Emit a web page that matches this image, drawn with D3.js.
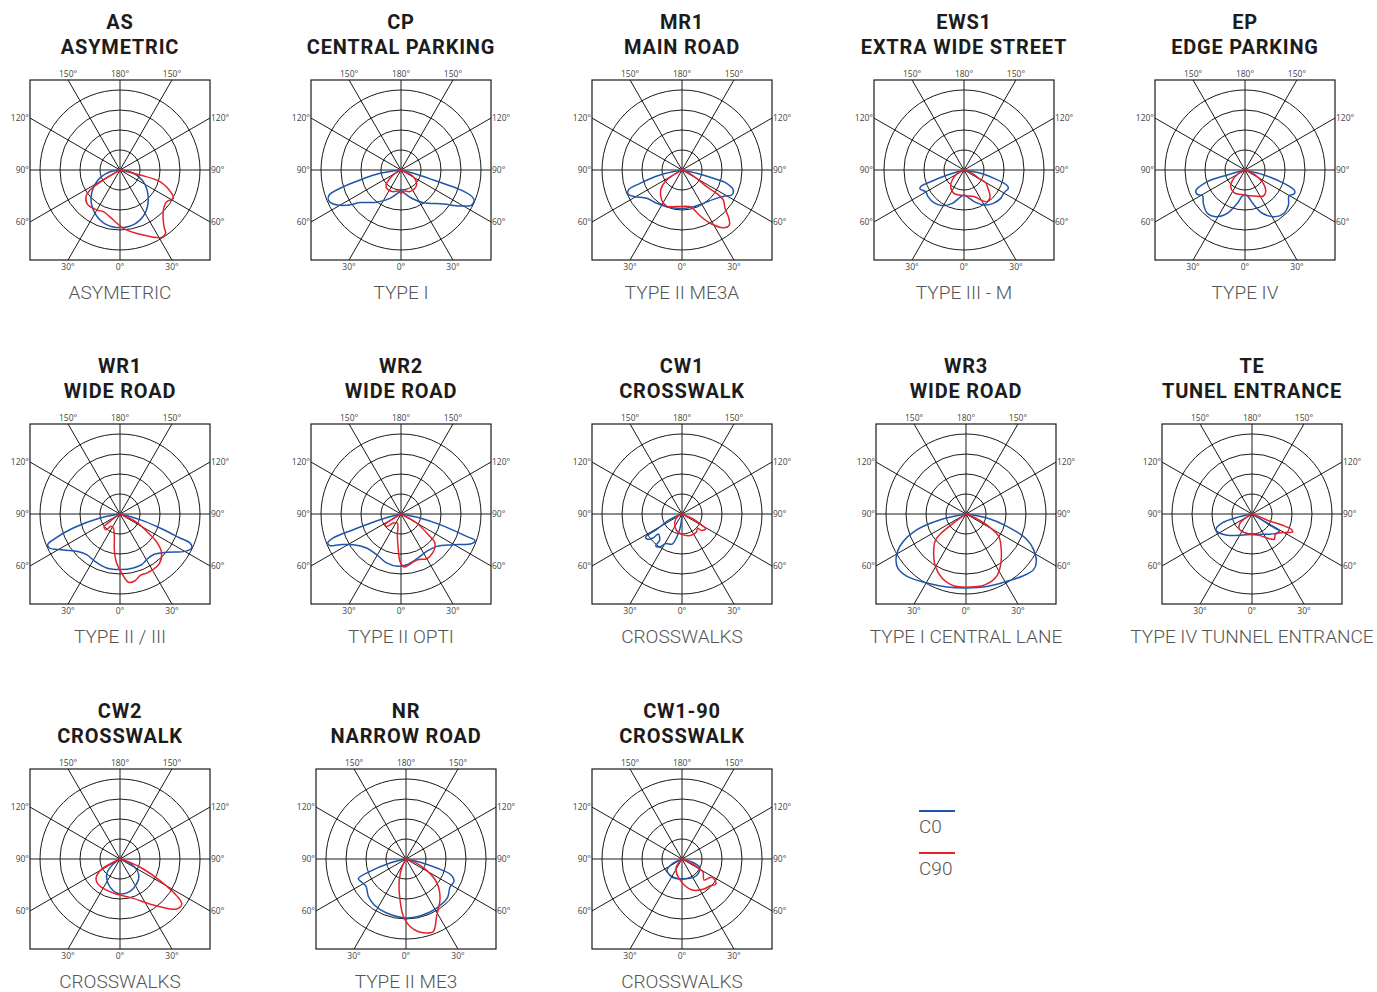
<!DOCTYPE html>
<html>
<head>
<meta charset="utf-8">
<script src="https://cdn.jsdelivr.net/npm/d3@7"></script>
<style>
    body { margin: 0; background: #fff; }
    .title { font-family: Roboto, sans-serif; font-weight: 700; font-size: 20px; letter-spacing: 0.8px; fill: #1c1c1c; }
    .type { font-family: Roboto, sans-serif; font-weight: 300; font-size: 19px; fill: #555; }
    .tick { font-family: "Open Sans", sans-serif; font-size: 8.5px; fill: #444; }
    .grid { fill: none; stroke: #1a1a1a; stroke-width: 1; }
</style>
</head>
<body>
<div id="chart"></div>
<script>
// panel labels
const codes = ['AS', 'CP', 'MR1', 'EWS1', 'EP', 'WR1', 'WR2', 'CW1', 'WR3', 'TE', 'CW2', 'NR', 'CW1-90'];
const names = ['ASYMETRIC', 'CENTRAL PARKING', 'MAIN ROAD', 'EXTRA WIDE STREET', 'EDGE PARKING',
    'WIDE ROAD', 'WIDE ROAD', 'CROSSWALK', 'WIDE ROAD', 'TUNEL ENTRANCE',
    'CROSSWALK', 'NARROW ROAD', 'CROSSWALK'];
const types = ['ASYMETRIC', 'TYPE I', 'TYPE II ME3A', 'TYPE III - M', 'TYPE IV',
    'TYPE II / III', 'TYPE II OPTI', 'CROSSWALKS', 'TYPE I CENTRAL LANE', 'TYPE IV TUNNEL ENTRANCE',
    'CROSSWALKS', 'TYPE II ME3', 'CROSSWALKS'];

// polar grid
const rings = [1, 2, 3, 4];
const spokes = [0, 30, 60, 90, 120, 150];
const topTicks = ['150°', '180°', '150°'];
const bottomTicks = ['30°', '0°', '30°'];
const sideTicks = ['120°', '90°', '60°'];
const seriesNames = ['C0', 'C90'];

// curves: [angle from nadir in degrees (negative = left), intensity in ring units]
const c0 = [
    [[-80,0.5],[-70,1.0],[-60,1.45],[-45,2.05],[-30,2.5],[-15,2.8],[0,2.88],[15,2.8],[30,2.5],[45,2.0],[60,1.45],[70,1.0],[80,0.5]],
    [[-81,1.06],[-76.3,2.11],[-73.3,3.18],[-70.8,3.8],[-67.6,3.93],[-63.3,3.79],[-57,3.24],[-51.5,2.62],[-37,2.02],[-21.2,1.52],[-6.7,1.14],[0,1.03],[6.7,1.14],[20.6,1.51],[34.4,1.98],[51.2,2.71],[58.6,3.45],[63.6,3.94],[67.7,3.95],[70.1,3.67],[71.8,2.93],[72.8,1.69],[74.9,0.64]],
    [[-77.2,1.13],[-72.4,2.2],[-69.6,2.86],[-65.6,2.95],[-60.4,2.7],[-51.3,2.26],[-37.2,2.09],[-22.7,1.99],[0,1.92],[17.2,1.92],[32.6,1.98],[46.9,2.15],[58.8,2.51],[63.3,2.78],[68.7,2.75],[73.4,2.33],[75.1,1.62],[77.2,0.75]],
    [[-73.3,0.87],[-70.7,1.77],[-69,2.32],[-66.6,2.4],[-60.5,2.2],[-53.5,2.24],[-42.6,2.22],[-31.3,2.09],[-19.3,1.77],[-8.3,1.38],[0,1.25],[8.3,1.38],[19.8,1.72],[31.8,2.06],[41.3,2.22],[52.3,2.32],[60.5,2.3],[67.5,2.4],[70.6,2.26],[74.5,1.56],[78.7,0.85]],
    [[-74.2,0.92],[-72.8,1.97],[-66.9,2.68],[-63,2.68],[-58.8,2.48],[-51.3,2.67],[-41,2.87],[-32.2,2.76],[-22.2,2.34],[-13,1.71],[-5.9,1.31],[0,1.25],[5.9,1.31],[13,1.71],[21.8,2.33],[31.9,2.75],[42,2.91],[51.1,2.79],[59.7,2.55],[63.9,2.73],[67.4,2.69],[71.1,2.06],[75.3,0.98]],
    [[-78.7,1.02],[-73.3,2.44],[-69,3.57],[-67,3.93],[-64.3,3.92],[-60,3.56],[-49.3,2.86],[-39.3,2.63],[-27.8,2.68],[-13.9,2.78],[1.7,2.78],[13.9,2.78],[23.2,2.76],[30.3,2.64],[39.3,2.63],[50.6,3.02],[60.1,3.75],[64.6,3.97],[67.5,3.79],[68.2,3.23],[70.7,2.12],[74.2,1.04]],
    [[-74.9,1.09],[-71.8,2.51],[-70.5,3.59],[-68.4,3.94],[-66,3.89],[-63.3,3.41],[-57.2,2.83],[-45.3,2.42],[-30.9,2.37],[-16.3,2.55],[-4,2.62],[6.4,2.55],[19.2,2.38],[34.5,2.27],[47.8,2.41],[59.6,3.03],[67.2,3.83],[70.4,3.93],[71.2,3.47],[74.7,2.02],[78.1,0.97]],
    [[-65.3,0.68],[-58.6,1.5],[-57.7,2.15],[-54.5,2.15],[-50.4,1.88],[-49.8,1.55],[-40.3,1.73],[-39.7,2.06],[-34.1,1.99],[-28.8,1.69],[-17.9,1.58],[-13.3,1.23],[-8.5,0.79],[-5.2,0.37]],
    [[-77.5,1.31],[-72.3,2.57],[-65.6,3.51],[-58.7,4.08],[-51.7,4.35],[-43.4,4.29],[-29.5,3.96],[-14.6,3.77],[0.8,3.7],[16.2,3.77],[31.3,3.94],[42,4.19],[50.6,4.38],[56.1,4.24],[62.2,3.82],[67.2,3.31],[73.3,2.14],[79.2,1.07]],
    [[-77.1,0.82],[-73.5,1.53],[-66.9,1.96],[-60.8,1.91],[-46.7,1.56],[-16.2,1.08],[27.7,1.15],[51.1,1.54],[58.1,1.61],[57.7,1.12],[59.3,0.52]],
    [[-51.3,0.53],[-41.6,1.0],[-25,1.38],[-11.9,1.62],[0,1.75],[17.2,1.69],[33.7,1.5],[48.7,1.26],[60.9,0.86],[68.2,0.45]],
    [[-76,0.82],[-71.1,1.9],[-67.6,2.58],[-62.2,2.5],[-55.7,2.42],[-45.3,2.65],[-35,2.79],[-19.7,2.87],[0.6,2.95],[17.3,2.92],[32,2.89],[46.7,2.84],[57.5,2.61],[65.1,2.65],[70.7,2.37],[73.6,1.6],[76.6,0.72]],
    [[-63.4,0.56],[-53.7,0.93],[-29,1.03],[5.7,1.0],[39.5,1.1],[63.4,1.0],[71.6,0.63]]
];
const c90 = [
    [[76,1.03],[73.7,2.08],[65.7,2.83],[62,3.02],[55.8,2.82],[47.3,2.95],[37.8,3.59],[35.8,3.9],[31.7,3.96],[19.7,3.45],[3.3,2.92],[-7.6,2.52],[-21.8,2.24],[-30.3,2.31],[-43.8,2.36],[-52,2.16],[-56.3,1.8],[-59,0.97]],
    [[-61,0.34],[-53,0.69],[-45,1.06],[-35,1.18],[-19.5,1.15],[-7,1.06],[0,1.17],[8,1.06],[21,1.16],[37.4,1.15],[49.6,1.03],[61.6,0.7],[64.8,0.31]],
    [[-60,0.5],[-55.5,1.03],[-46.8,1.46],[-34.1,1.81],[-23.1,1.96],[-8.3,1.85],[12.3,1.88],[17.7,2.13],[22.6,2.56],[28.8,3.08],[35.6,3.55],[40.7,3.63],[44.8,3.29],[48.3,2.88],[54,2.55],[56,2.09],[55.9,1.49],[60.4,0.84],[67,0.34]],
    [[-63.4,0.37],[-49.4,0.77],[-38.7,1.07],[-23.2,1.27],[0,1.28],[20.6,1.42],[30.9,1.79],[36.4,1.97],[44.3,1.86],[52.6,1.51],[59.7,1.25],[60.9,0.86],[68.2,0.45]],
    [[-60.3,0.4],[-52.1,0.76],[-40.7,1.1],[-25.9,1.26],[-2.3,1.25],[19.1,1.38],[35.2,1.59],[43.6,1.5],[54,1.13],[60.6,0.75],[68.2,0.36]],
    [[-53.7,0.62],[-50.9,1.03],[-41.8,1.05],[-36.1,0.76],[-25.5,0.78],[-14.2,1.15],[-9,1.81],[-3.9,2.46],[1.6,2.95],[7,3.44],[12.7,3.42],[18,3.24],[24.3,3.24],[30.4,3.23],[38.4,3.17],[46.9,2.85],[52.2,2.36],[56.2,1.71],[63.4,0.93]],
    [[-58.7,0.55],[-56.3,0.96],[-49.3,0.95],[-40.4,0.59],[-22.2,0.49],[-9.3,1.13],[-4.3,1.79],[-1.2,2.37],[3.2,2.65],[12.3,2.51],[19.7,2.43],[29.9,2.58],[39.1,2.51],[49.5,2.23],[52.9,1.71],[60.1,0.9]],
    [[-59,0.29],[-39.2,0.58],[-19.1,0.86],[0.9,1.03],[21.3,1.15],[38,1.16],[47.5,1.06],[49.8,1.27],[57.6,1.4],[61.1,1.1],[65.6,0.6]],
    [[-53.9,0.76],[-52.4,1.56],[-49.3,2.02],[-39.7,2.53],[-30.4,3.03],[-20.6,3.42],[-9.8,3.64],[3.4,3.66],[15.3,3.66],[25.5,3.49],[33.3,3.13],[47.3,2.38],[55.6,1.98],[61.4,1.29],[66.8,0.51]],
    [[-58.6,0.35],[-53.4,0.73],[-39.6,0.99],[-17.2,1.01],[19,1.13],[35.1,1.51],[41.4,1.69],[48.9,1.55],[58.7,1.79],[66.1,2.22],[68.7,2.11],[69.7,1.63],[68,0.93],[70,0.39]],
    [[-63.4,0.56],[-59.7,1.16],[-50.2,1.56],[-36.2,1.69],[-11.1,1.73],[18.7,2.08],[35.9,2.84],[48.6,3.78],[53.9,3.82],[57.1,3.37],[61.6,2.27],[66.8,1.27],[71.6,0.53]],
    [[-26.6,0.41],[-17.9,1.09],[-8.4,2.06],[-1.9,2.95],[6,3.52],[15.6,3.84],[20.7,3.87],[28.1,3.25],[41.1,2.59],[52.7,1.93],[61.3,1.18],[69.7,0.48]],
    [[-33.7,0.54],[-5.4,1.05],[17.9,1.63],[36.3,1.86],[46,1.94],[53.7,2.11],[59,1.75],[46.3,1.52],[58.2,1.23],[63.4,0.67]]
];

// layout
const W = 1377, H = 992;
const half = 90;
const panelX = [120, 401, 682, 964, 1245, 120, 401, 682, 966, 1252, 120, 406, 682];
const rowTop = [80, 424, 769];
const colors = ['#1f56ad', '#e8202a'];

const svg = d3.select('#chart').append('svg')
    .attr('width', W)
    .attr('height', H);

const r = d3.scaleLinear().domain([0, 4]).range([0, 80]);
const rad = d => d * Math.PI / 180;

const line = d3.lineRadial()
    .angle(d => Math.PI - rad(d[0]))
    .radius(d => r(d[1]))
    .curve(d3.curveCatmullRom.alpha(0.5));

codes.forEach((code, i) => {
    let cx = panelX[i];
    let top = rowTop[Math.floor(i / 5)];
    let cy = top + half;
    let g = svg.append('g');

    g.append('text').attr('class', 'title')
        .attr('x', cx).attr('y', top - 51)
        .attr('text-anchor', 'middle').text(code);
    g.append('text').attr('class', 'title')
        .attr('x', cx).attr('y', top - 26)
        .attr('text-anchor', 'middle').text(names[i]);
    g.append('text').attr('class', 'type')
        .attr('x', cx).attr('y', top + 219)
        .attr('text-anchor', 'middle').text(types[i]);

    g.append('rect').attr('class', 'grid')
        .attr('x', cx - half).attr('y', top)
        .attr('width', 2 * half).attr('height', 2 * half)
        .style('stroke-width', 1.2);

    let p = g.append('g').attr('transform', `translate(${cx},${cy})`);

    p.selectAll('.ring')
        .data(rings)
        .enter()
        .append('circle')
        .attr('class', 'grid')
        .attr('r', d => r(d));

    p.selectAll('.spoke')
        .data(spokes)
        .enter()
        .append('line')
        .attr('class', 'grid')
        .each(function(a) {
            let s = Math.sin(rad(a)), c = Math.cos(rad(a));
            let len = half / Math.max(Math.abs(s), Math.abs(c));
            d3.select(this)
                .attr('x1', -s * len).attr('y1', -c * len)
                .attr('x2', s * len).attr('y2', c * len);
        });

    let off = half * Math.tan(rad(30));
    let tickX = [-off, 0, off];
    p.selectAll('.ttop')
        .data(topTicks)
        .enter()
        .append('text').attr('class', 'tick')
        .attr('x', (d, j) => tickX[j]).attr('y', -half - 3)
        .attr('text-anchor', 'middle').text(d => d);
    p.selectAll('.tbot')
        .data(bottomTicks)
        .enter()
        .append('text').attr('class', 'tick')
        .attr('x', (d, j) => tickX[j]).attr('y', half + 10)
        .attr('text-anchor', 'middle').text(d => d);
    p.selectAll('.tleft')
        .data(sideTicks)
        .enter()
        .append('text').attr('class', 'tick')
        .attr('x', -half - 1).attr('y', (d, j) => tickX[j] + 3)
        .attr('text-anchor', 'end').text(d => d);
    p.selectAll('.tright')
        .data(sideTicks)
        .enter()
        .append('text').attr('class', 'tick')
        .attr('x', half + 1).attr('y', (d, j) => tickX[j] + 3)
        .attr('text-anchor', 'start').text(d => d);

    [c0[i], c90[i]].forEach((pts, k) => {
        p.append('path')
            .datum([[0, 0]].concat(pts, [[0, 0]]))
            .attr('d', line)
            .attr('fill', 'none')
            .attr('stroke', colors[k])
            .attr('stroke-width', 1.5)
            .attr('stroke-linejoin', 'round');
    });
    p.append('circle').attr('r', 1.6).attr('fill', '#c0202a');
});

// legend
let legend = svg.selectAll('.legend')
    .data(seriesNames)
    .enter()
    .append('g')
    .attr('transform', (d, i) => `translate(919,${811 + i * 42})`);
legend.append('line')
    .attr('x1', 0).attr('x2', 36)
    .attr('stroke', (d, i) => colors[i])
    .attr('stroke-width', 2.2);
legend.append('text').attr('class', 'type')
    .attr('x', 0).attr('y', 22)
    .text(d => d);
</script>
</body>
</html>
